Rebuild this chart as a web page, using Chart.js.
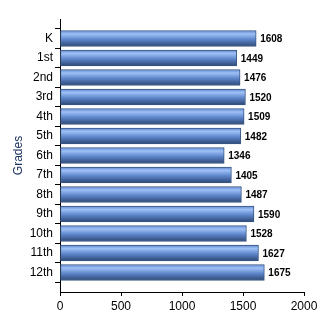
<!DOCTYPE html>
<html>
<head>
<meta charset="utf-8">
<script src="https://cdn.jsdelivr.net/npm/chart.js@4/dist/chart.umd.min.js"></script>
<style>
  html, body { margin: 0; padding: 0; background: #fff; }
  #wrap { width: 330px; height: 330px; }
</style>
</head>
<body>
<div id="wrap"><canvas id="gradesChart" width="330" height="330"></canvas></div>
<script>
// Grade levels and enrollment counts
const grades = ['K', '1st', '2nd', '3rd', '4th', '5th', '6th', '7th', '8th', '9th', '10th', '11th', '12th'];
const students = [1608, 1449, 1476, 1520, 1509, 1482, 1346, 1405, 1487, 1590, 1528, 1627, 1675];
const xTicks = [0, 500, 1000, 1500, 2000];

// The axis has an empty slot at each end, like the original
const labels = [''].concat(grades, ['']);
const values = [null].concat(students, [null]);

const BAR_H = 16;

// Vertical gradient per bar, light band near the top, dark at the bottom
function barGradient(context) {
    const chart = context.chart;
    const yScale = chart.scales.y;
    if (!yScale || context.dataIndex === undefined) return '#6a92d8';
    const cy = yScale.getPixelForValue(context.dataIndex);
    if (!isFinite(cy)) return '#6a92d8';
    const top = cy - BAR_H / 2;
    const g = chart.ctx.createLinearGradient(0, top, 0, top + BAR_H);
    g.addColorStop(0, '#5f88d2');
    g.addColorStop(0.22, '#9ec0f6');
    g.addColorStop(0.55, '#5f87cc');
    g.addColorStop(1, '#2b4672');
    return g;
}

// Value labels to the right of each bar
const valueLabels = {
    id: 'valueLabels',
    afterDatasetsDraw(chart) {
        const ctx = chart.ctx;
        const meta = chart.getDatasetMeta(0);
        ctx.save();
        ctx.font = 'bold 10px "Liberation Sans", Arial, sans-serif';
        ctx.fillStyle = '#000';
        ctx.textAlign = 'left';
        ctx.textBaseline = 'middle';
        meta.data.forEach((bar, i) => {
            const v = values[i];
            if (v === null) return;
            ctx.fillText(String(v), bar.x + 4, bar.y + 1);
        });
        ctx.restore();
    }
};

new Chart(document.getElementById('gradesChart'), {
    type: 'bar',
    data: {
        labels: labels,
        datasets: [{
            data: values,
            backgroundColor: barGradient,
            borderColor: '#3a5682',
            borderWidth: 1,
            borderSkipped: false,
            barThickness: BAR_H
        }]
    },
    options: {
        indexAxis: 'y',
        responsive: false,
        animation: false,
        layout: { padding: { top: 19, right: 26, left: 0, bottom: 0 } },
        plugins: {
            legend: { display: false },
            tooltip: { enabled: false }
        },
        scales: {
            x: {
                min: 0,
                max: 2000,
                afterBuildTicks(scale) {
                    scale.ticks = xTicks.map(v => ({ value: v }));
                },
                afterFit(scale) { scale.height = 38; },
                border: { display: true, color: '#000', width: 1 },
                grid: { drawOnChartArea: false, drawTicks: true, tickLength: 4, color: '#000' },
                ticks: {
                    color: '#000',
                    padding: 3,
                    callback: v => String(v),
                    font: { family: '"Liberation Sans", Arial, sans-serif', size: 12 }
                }
            },
            y: {
                offset: false,
                afterFit(scale) { scale.width = 60; },
                border: { display: true, color: '#000', width: 1 },
                grid: { drawOnChartArea: false, drawTicks: true, tickLength: 5, color: '#000' },
                ticks: {
                    color: '#000',
                    padding: 2,
                    autoSkip: false,
                    font: { family: '"Liberation Sans", Arial, sans-serif', size: 12 }
                },
                title: {
                    display: true,
                    text: 'Grades',
                    color: '#1d3360',
                    padding: { top: 11, bottom: 0 },
                    font: { family: '"Liberation Sans", Arial, sans-serif', size: 12 }
                }
            }
        }
    },
    plugins: [valueLabels]
});
</script>
</body>
</html>
